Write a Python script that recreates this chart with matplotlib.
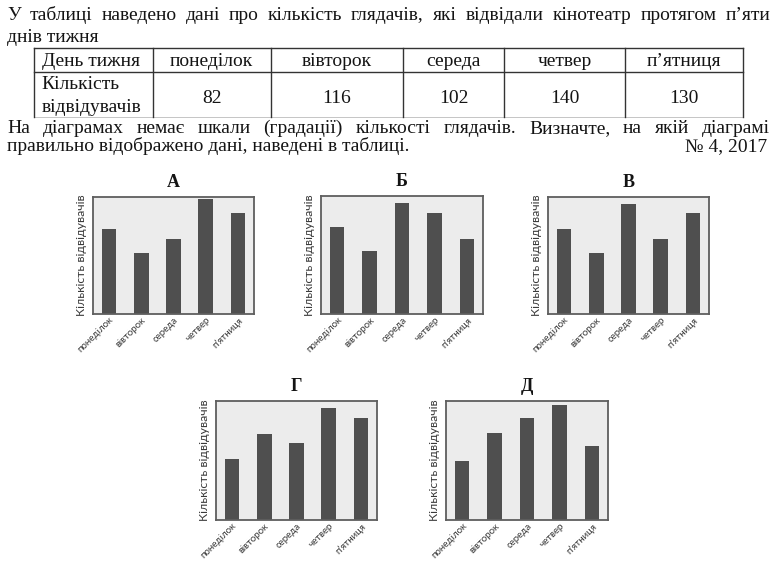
import numpy as np
import matplotlib
matplotlib.use("Agg")
import matplotlib.pyplot as plt
from matplotlib.transforms import ScaledTranslation

W, H = 777, 563

# table data
days = ["понеділок", "вівторок", "середа", "четвер", "п’ятниця"]
visitors = [82, 116, 102, 140, 130]

# bar heights as drawn on each diagram
bars_A = [104, 75, 92, 140, 123]
bars_B = [105, 76, 135, 122, 91]
bars_V = [104, 75, 135, 92, 123]
bars_G = [73, 103, 92, 135, 122]
bars_D = [71, 104, 123, 138, 89]

serif = "Liberation Serif"
sans = "Lato"
ink = "#141414"
fs = 14

fig = plt.figure(figsize=(W / 100, H / 100), dpi=100)
bg = fig.add_axes([0, 0, 1, 1])
bg.set_xlim(0, W)
bg.set_ylim(H, 0)
bg.axis("off")


def justify(line, y, x0=7, x1=770, size=fs):
    words = line.split(" ")
    texts = [bg.text(0, y, w, fontsize=size, family=serif, color=ink, va="baseline") for w in words]
    r = fig.canvas.get_renderer()
    widths = [t.get_window_extent(r).width for t in texts]
    gap = (x1 - x0 - sum(widths)) / (len(words) - 1)
    x = x0
    for t, w in zip(texts, widths):
        t.set_x(x)
        x += w + gap


justify("У таблиці наведено дані про кількість глядачів, які відвідали кінотеатр протягом п’яти", 19.5)
bg.text(7, 41.5, "днів тижня", fontsize=fs, family=serif, color=ink, va="baseline")

# table
cols = [34.3, 152.7, 270.7, 403.3, 504, 625, 742.7]
top, mid, bot = 48.3, 71.7, 117.3
bg.plot([cols[0], cols[-1]], [top, top], color="#333333", lw=1)
bg.plot([cols[0], cols[-1]], [mid, mid], color="#333333", lw=1)
bg.plot([cols[0], cols[-1]], [bot, bot], color="#bbbbbb", lw=0.6)
for c in cols:
    bg.plot([c, c], [top, bot], color="#333333", lw=1)
bg.text(41.5, 66.5, "День тижня", fontsize=fs, family=serif, color=ink, va="baseline")
bg.text(41.5, 89.3, "Кількість", fontsize=fs, family=serif, color=ink, va="baseline")
bg.text(41.5, 111.7, "відвідувачів", fontsize=fs, family=serif, color=ink, va="baseline")
for i, (d, v) in enumerate(zip(days, visitors)):
    cx = (cols[i + 1] + cols[i + 2]) / 2
    bg.text(cx, 66.5, d, fontsize=fs, family=serif, color=ink, va="baseline", ha="center")
    bg.text(cx, 102.7, str(v), fontsize=fs, family=serif, color=ink, va="baseline", ha="center")

justify("На діаграмах немає шкали (градації) кількості глядачів. Визначте, на якій діаграмі", 133.3)
bg.text(7, 151, "правильно відображено дані, наведені в таблиці.", fontsize=fs, family=serif, color=ink, va="baseline")
bg.text(767, 151, "№ 4, 2017", fontsize=fs, family=serif, color=ink, va="baseline", ha="right")


def panel(box, title, values):
    l, t, r, b = box
    ax = fig.add_axes([l / W, 1 - b / H, (r - l) / W, (b - t) / H])
    x = np.arange(len(days))
    ax.bar(x, values, width=0.45, color="#4f4f4f", zorder=2)
    ax.set_xlim(-0.5, 4.5)
    ax.set_ylim(0, 143)
    ax.set_facecolor("#ececec")
    for s in ax.spines.values():
        s.set_color("#5e5e5e")
        s.set_linewidth(1.3)
    ax.set_yticks([])
    ax.set_xticks(x)
    ax.set_xticklabels(days, rotation=45, ha="right", rotation_mode="anchor",
                       fontsize=7, color="#3a3a3a", family=sans)
    shift = ScaledTranslation(4 / 100, 0, fig.dpi_scale_trans)
    for lab in ax.get_xticklabels():
        lab.set_transform(lab.get_transform() + shift)
    ax.tick_params(axis="x", length=0, pad=1)
    ax.set_ylabel("Кількість відвідувачів", fontsize=8.8, color="#3a3a3a", family=sans, labelpad=4)
    ax.set_title(title, fontsize=13, fontweight="bold", family=serif, color=ink, pad=7)


panel((93, 197, 254, 314), "А", bars_A)
panel((321, 196, 483, 314), "Б", bars_B)
panel((548, 197, 709, 314), "В", bars_V)
panel((216, 401, 377, 520), "Г", bars_G)
panel((446, 401, 608, 520), "Д", bars_D)

fig.savefig("out.png", dpi=100)
